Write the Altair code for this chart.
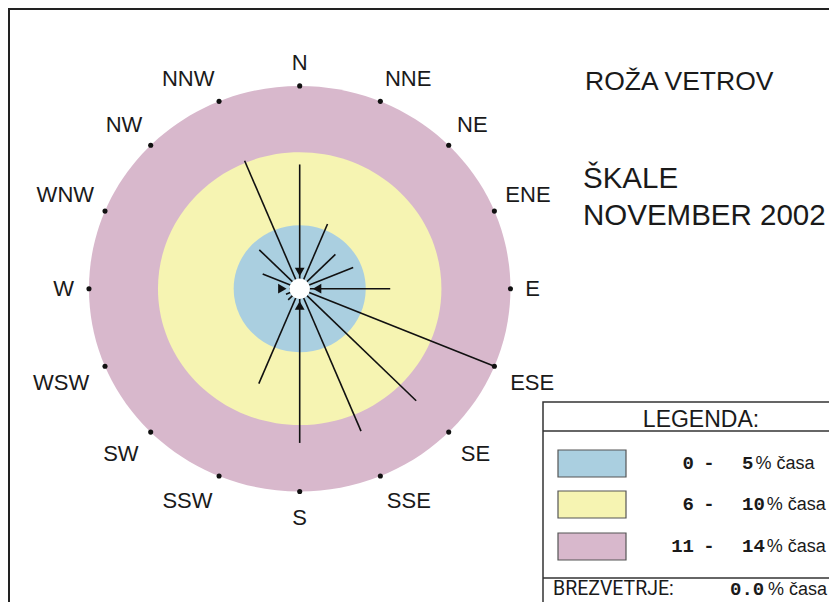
import math
import altair as alt
import pandas as pd

# ---------------- data ----------------
directions = ["N", "NNE", "NE", "ENE", "E", "ESE", "SE", "SSE",
              "S", "SSW", "SW", "WSW", "W", "WNW", "NW", "NNW"]
frequency = [8.7, 4.9, 3.4, 3.9, 6.1, 14.25, 11.1, 10.8,
             10.8, 7.2, 1.1, 1.0, 0.7, 2.7, 3.85, 9.7]
ring_limits = [4.45, 9.55, 14.2]
ring_colors = ["#aacfe0", "#f6f4b2", "#d8b8cc"]
legend_low = ["0", "6", "11"]
legend_high = ["5", "10", "14"]
calm_value = "0.0"
title_text = "ROŽA VETROV"
station = "ŠKALE"
period = "NOVEMBER 2002"
legend_title = "LEGENDA:"
calm_label = "BREZVETRJE:"
unit_text = "% časa"

# ---------------- layout ----------------
W, H = 821, 594
CX, CY = 291.7, 280.7          # rose centre in pixels
KX, KY = 14.84, 14.28          # pixels per percent (x / y)
xs = alt.Scale(domain=[-CX / KX, (W - CX) / KX], nice=False, zero=False)
ys = alt.Scale(domain=[-(H - CY) / KY, CY / KY], nice=False, zero=False)
ratio = KY / KX
ELLIPSE = f"M-1,0A1,{ratio:.4f},0,1,0,1,0A1,{ratio:.4f},0,1,0,-1,0Z"
TXT = "#1a1a1a"
SANS = "Liberation Sans"
MONO = "Liberation Mono"

angles = [i * 22.5 for i in range(len(directions))]

X = lambda f: alt.X(f, scale=xs, axis=None)
Y = lambda f: alt.Y(f, scale=ys, axis=None)

# rings
rings_df = pd.DataFrame({"limit": ring_limits, "color": ring_colors})
rings = alt.Chart(rings_df).transform_calculate(cx="0", cy="0").mark_point(
    shape=ELLIPSE, filled=True, opacity=1, strokeWidth=0
).encode(
    x=X("cx:Q"), y=Y("cy:Q"),
    size=alt.Size("limit:Q", legend=None,
                  scale=alt.Scale(type="pow", exponent=2, domain=[0, 15],
                                  range=[0, (2 * KX * 15) ** 2])),
    color=alt.Color("color:N", scale=None),
    order=alt.Order("limit:Q", sort="descending"),
)

# spokes
spoke_df = pd.DataFrame({"dir": directions, "freq": frequency, "ang": angles})
spokes = alt.Chart(spoke_df).transform_calculate(
    px="datum.freq*sin(datum.ang*PI/180)",
    py="datum.freq*cos(datum.ang*PI/180)",
    zx="0", zy="0",
).mark_rule(color="#111111", strokeWidth=1.6).encode(
    x=X("zx:Q"), y=Y("zy:Q"), x2="px:Q", y2="py:Q"
)

# centre hole
hole = alt.Chart(pd.DataFrame({"a": [0]})).transform_calculate(cx="0", cy="0").mark_point(
    shape="circle", filled=True, color="white", opacity=1, size=420
).encode(x=X("cx:Q"), y=Y("cy:Q"))

# arrow heads round the hole
arrow_df = pd.DataFrame({
    "dir": ["N", "E", "S", "W"],
    "ang": [0, 90, 180, 270],
    "shape": ["triangle-down", "triangle-left", "triangle-up", "triangle-right"],
})
arrows = alt.Chart(arrow_df).transform_calculate(
    px="1.17*sin(datum.ang*PI/180)", py="1.17*cos(datum.ang*PI/180)"
).mark_point(filled=True, opacity=1, color="#111111", size=95).encode(
    x=X("px:Q"), y=Y("py:Q"), shape=alt.Shape("shape:N", scale=None)
)

# dots on outer ring
dots = alt.Chart(spoke_df).transform_calculate(
    px=f"{ring_limits[-1]}*sin(datum.ang*PI/180)",
    py=f"{ring_limits[-1]}*cos(datum.ang*PI/180)",
).mark_point(shape="circle", filled=True, opacity=1, color="#111111", size=26).encode(
    x=X("px:Q"), y=Y("py:Q")
)

# direction labels
lab_rows = []
for d, a in zip(directions, angles):
    s, c = math.sin(math.radians(a)), math.cos(math.radians(a))
    al = "left" if s > 0.1 else ("right" if s < -0.1 else "center")
    bl = "bottom" if c > 0.1 else ("top" if c < -0.1 else "middle")
    rl = 15.0 + (0.35 if bl == "top" else 0.0) + (0.2 if bl == "middle" else 0.0)
    lab_rows.append({"dir": d, "ang": a, "al": al, "bl": bl, "rl": rl})
lab_df = pd.DataFrame(lab_rows)
label_layers = []
for (al, bl), sub in lab_df.groupby(["al", "bl"]):
    label_layers.append(
        alt.Chart(sub).transform_calculate(
            px="datum.rl*sin(datum.ang*PI/180)", py="datum.rl*cos(datum.ang*PI/180)"
        ).mark_text(align=al, baseline=bl, font=SANS, fontSize=22, color=TXT).encode(
            x=X("px:Q"), y=Y("py:Q"), text="dir:N"
        )
    )


def text_at(txt, x, y, **kw):
    opts = dict(align="left", baseline="alphabetic", font=SANS, color=TXT)
    opts.update(kw)
    return alt.Chart(pd.DataFrame({"t": [txt]})).mark_text(**opts).encode(
        x=alt.value(x), y=alt.value(y), text="t:N"
    )


def rect_at(x, x2, y, y2, **kw):
    return alt.Chart(pd.DataFrame({"a": [0]})).mark_rect(**kw).encode(
        x=alt.value(x), x2=alt.value(x2), y=alt.value(y), y2=alt.value(y2)
    )


def hline(x, x2, y, **kw):
    return alt.Chart(pd.DataFrame({"a": [0]})).mark_rule(**kw).encode(
        x=alt.value(x), x2=alt.value(x2), y=alt.value(y)
    )


frame = rect_at(1, W + 20, 1, H + 20, fillOpacity=0, stroke="#222222", strokeWidth=2)

titles = [
    text_at(title_text, 577, 82, fontSize=26.5),
    text_at(station, 575, 180, fontSize=29.5),
    text_at(period, 575, 217, fontSize=29.5),
]

legend = [
    rect_at(535, W + 20, 394, H + 20, fill="white", stroke="#333333", strokeWidth=1.5),
    hline(535, W + 5, 423, color="#333333", strokeWidth=1.5),
    hline(535, W + 5, 570, color="#333333", strokeWidth=1.5),
    text_at(legend_title, 693, 419, align="center", fontSize=23),
]
row_tops = [442, 483, 525]
for lo, hi, col, top in zip(legend_low, legend_high, ring_colors, row_tops):
    base = top + 19
    legend += [
        rect_at(550, 618, top, top + 27, fill=col, stroke="#555555", strokeWidth=1.2),
        text_at(lo, 686, base, align="right", font=MONO, fontWeight="bold", fontSize=19),
        text_at("-", 701, base, align="center", font=MONO, fontWeight="bold", fontSize=19),
        text_at(hi, 734, base, font=MONO, fontWeight="bold", fontSize=19),
        text_at(unit_text, 736 + len(hi) * 11.4, base, fontSize=18),
    ]
calm_base = 587
legend += [
    text_at(calm_label, 545, calm_base, font="Roboto", fontSize=19.5),
    text_at(calm_value, 722, calm_base, font=MONO, fontWeight="bold", fontSize=19),
    text_at(unit_text, 760, calm_base, fontSize=18),
]

chart = alt.layer(
    frame, rings, spokes, hole, arrows, dots, *label_layers, *titles, *legend
).properties(
    width=W, height=H, autosize=alt.AutoSizeParams(type="none"), padding=0
).configure_view(stroke=None).configure(background="white")

chart.save("out.html", embed_options={"renderer": "svg", "actions": False})
